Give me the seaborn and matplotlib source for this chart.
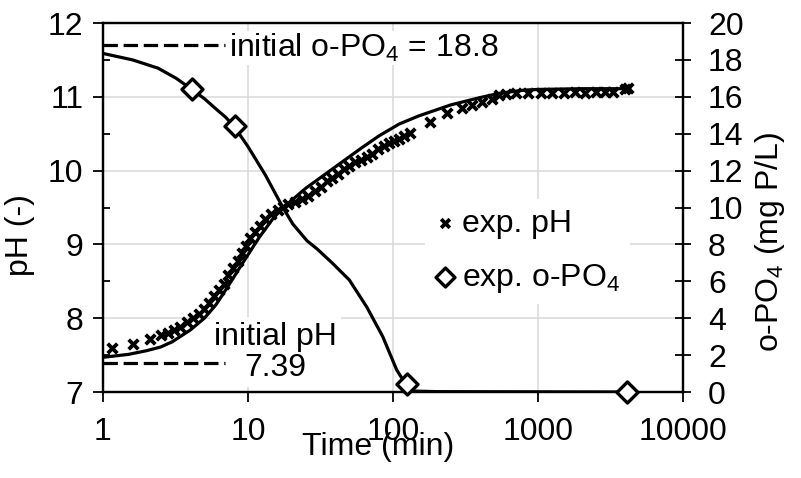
import matplotlib
matplotlib.use("Agg")
import matplotlib.pyplot as plt
import seaborn as sns
import numpy as np
import pandas as pd
from matplotlib.ticker import FixedLocator, NullLocator, NullFormatter

# ---------------- data ----------------
exp_ph_time = [1.15, 1.6, 2.1, 2.5, 2.8, 3.1, 3.4, 3.8, 4.2, 4.6, 5.0, 5.4, 5.8,
               6.3, 6.8, 7.3, 7.9, 8.5, 9.1, 9.7, 10.4, 11.2, 12.1, 13.2, 14.5,
               16, 17.5, 19, 21, 23.5, 26, 29, 32, 35, 38, 42, 46, 50, 55, 60,
               66, 72, 79, 86, 94, 102, 110, 120, 130, 180, 235, 300, 350, 410,
               480, 540, 600, 700, 850, 1050, 1250, 1500, 1800, 2100, 2500,
               2900, 3300, 4000, 4200]
exp_ph = [7.60, 7.65, 7.72, 7.77, 7.80, 7.84, 7.88, 7.95, 8.00, 8.06, 8.12, 8.20,
          8.30, 8.38, 8.47, 8.58, 8.68, 8.78, 8.88, 8.98, 9.08, 9.17, 9.25, 9.34,
          9.41, 9.47, 9.51, 9.55, 9.58, 9.62, 9.66, 9.73, 9.78, 9.86, 9.90, 9.96,
          10.02, 10.06, 10.11, 10.14, 10.18, 10.23, 10.29, 10.34, 10.37, 10.40,
          10.43, 10.47, 10.51, 10.66, 10.78, 10.85, 10.89, 10.93, 10.97, 11.02,
          11.04, 11.05, 11.05, 11.05, 11.05, 11.05, 11.06, 11.05, 11.06, 11.06,
          11.07, 11.10, 11.12]

model_ph_time = [1, 1.5, 2, 2.5, 3, 4, 5, 6, 7, 8, 9, 10, 12, 15, 18, 25, 40,
                 60, 80, 110, 150, 250, 400, 550, 800, 1000, 2000, 4300]
model_ph = [7.47, 7.51, 7.56, 7.61, 7.68, 7.84, 8.00, 8.18, 8.38, 8.56, 8.72,
            8.86, 9.10, 9.36, 9.52, 9.76, 10.05, 10.30, 10.47, 10.63, 10.74,
            10.89, 10.99, 11.05, 11.09, 11.10, 11.11, 11.11]

exp_po4_time = [4.1, 8.1, 125, 4100]
exp_po4 = [16.4, 14.4, 0.45, 0.0]

model_po4_time = [1, 1.6, 2.4, 3.2, 4.1, 5, 6.1, 7, 8.1, 10, 13.2, 17.4, 20.4,
                  25.5, 30, 38, 50, 66, 85, 106, 125, 140, 200, 4200]
model_po4 = [18.35, 18.0, 17.55, 17.0, 16.4, 15.9, 15.3, 14.9, 14.35, 13.3,
             11.75, 10.0, 9.1, 8.2, 7.75, 7.0, 6.07, 4.6, 3.0, 1.2, 0.3, 0.05,
             0.02, 0.0]

initial_po4 = 18.8
initial_ph = 7.39
initial_line_time = [1, 6.9]

x_ticks = [1, 10, 100, 1000, 10000]
ph_ticks = [7, 8, 9, 10, 11, 12]
po4_ticks = [0, 2, 4, 6, 8, 10, 12, 14, 16, 18, 20]

# ---------------- style ----------------
sns.set_style("white")
plt.rcParams["font.family"] = ["Liberation Sans", "DejaVu Sans"]
plt.rcParams["mathtext.fontset"] = "custom"
plt.rcParams["mathtext.rm"] = "Liberation Sans"
plt.rcParams["mathtext.it"] = "Liberation Sans:italic"
plt.rcParams["font.size"] = 23
for k in ("text.color", "axes.labelcolor", "xtick.color", "ytick.color",
          "axes.edgecolor"):
    plt.rcParams[k] = "black"

fs = 23
fig = plt.figure(figsize=(8.01, 4.78), dpi=100)
ax = fig.add_axes([103 / 801, 1 - 392 / 478, 580 / 801, 369 / 478])
ax2 = ax.twinx()

# grid on left axis
ax.set_axisbelow(True)
ax.set_xscale("log")
ax.grid(True, which="major", color="#d9d9d9", lw=1.1, zorder=0)

# pH series (left axis)
sns.lineplot(x=initial_line_time, y=[initial_ph] * 2, ax=ax, color="black",
             lw=2.3, linestyle=(0, (4.5, 1.8)), zorder=2)
sns.lineplot(x=model_ph_time, y=model_ph, ax=ax, color="black", lw=2.3,
             sort=False, zorder=2)
sns.scatterplot(x=exp_ph_time, y=exp_ph, ax=ax, marker="x", s=48,
                linewidth=2.7, color="black", label="exp. pH", legend=False,
                zorder=3)

# o-PO4 series (right axis)
sns.lineplot(x=initial_line_time, y=[initial_po4] * 2, ax=ax2, color="black",
             lw=2.3, linestyle=(0, (4.5, 1.8)), zorder=2)
sns.lineplot(x=model_po4_time, y=model_po4, ax=ax2, color="black", lw=2.3,
             sort=False, zorder=2)
sns.scatterplot(x=exp_po4_time, y=exp_po4, ax=ax2, marker="D", s=115,
                facecolor="white", edgecolor="black", linewidth=2.4,
                label="exp. o-PO$_4$", legend=False, zorder=4, clip_on=False)

# limits
ax.set_xlim(1, 10000)
ax.set_ylim(7, 12)
ax2.set_ylim(0, 20)

# ticks
ax.xaxis.set_major_locator(FixedLocator(x_ticks))
ax.xaxis.set_minor_locator(NullLocator())
ax.set_xticklabels([str(t) for t in x_ticks])
ax.yaxis.set_major_locator(FixedLocator(ph_ticks))
ax.yaxis.set_minor_locator(FixedLocator([7.5, 8.5, 9.5, 10.5, 11.5]))
ax.yaxis.set_minor_formatter(NullFormatter())
ax.set_yticklabels([str(t) for t in ph_ticks])
ax2.yaxis.set_major_locator(FixedLocator(po4_ticks))
ax2.set_yticklabels([str(t) for t in po4_ticks])

ax.tick_params(axis="x", which="major", direction="out", length=7, width=1.3,
               pad=11, labelsize=fs, colors="black", top=False, bottom=True)
ax.tick_params(axis="y", which="major", direction="out", length=7, width=1.3,
               pad=7, labelsize=fs, left=True, right=False, colors="black")
ax.tick_params(axis="y", which="minor", direction="in", length=5, width=1.3,
               left=True, right=False, colors="black")
ax2.tick_params(axis="y", which="major", direction="inout", length=12,
                width=1.3, pad=12, labelsize=fs, right=True, colors="black")

for a in (ax, ax2):
    for sp in a.spines.values():
        sp.set_color("black")
        sp.set_linewidth(1.6)

# labels
ax.set_xlabel("Time (min)", fontsize=fs, color="black")
ax.xaxis.label.set_va("center")
ax.xaxis.set_label_coords((378 - 103) / 580, (392 - 447) / 369)
ax.set_ylabel("pH (-)", fontsize=fs, color="black")
ax.yaxis.label.set_va("center")
ax.yaxis.set_label_coords((20 - 103) / 580, (392 - 235) / 369)
ax2.set_ylabel("o-PO$_4$ (mg P/L)", fontsize=fs, rotation=90, color="black")
ax2.yaxis.label.set_va("center")
ax2.yaxis.set_label_coords((770 - 103) / 580, (392 - 242) / 369)

# annotations
ax2.text(7.4, initial_po4 - 0.15, "initial o-PO$_4$ = 18.8", fontsize=fs,
         ha="left", va="center", zorder=1, color="black",
         bbox=dict(fc="white", ec="none", pad=1))
ax.text(15.4, 7.54, "initial pH\n7.39", fontsize=fs, ha="center",
        va="center", multialignment="center", linespacing=1.05, zorder=1,
        color="black", bbox=dict(fc="white", ec="none", pad=3))

# legend
h1, l1 = ax.get_legend_handles_labels()
h2, l2 = ax2.get_legend_handles_labels()
leg = ax2.legend(h1 + h2, l1 + l2, loc="center left",
                 bbox_to_anchor=(0.556, 0.38), fontsize=fs, frameon=True,
                 facecolor="white", edgecolor="none", framealpha=1,
                 handlelength=0.6, handletextpad=0.25, labelspacing=0.72,
                 borderpad=0.3, borderaxespad=0, markerscale=0.9)
for t in leg.get_texts():
    t.set_color("black")

fig.savefig("out.png", dpi=100)
